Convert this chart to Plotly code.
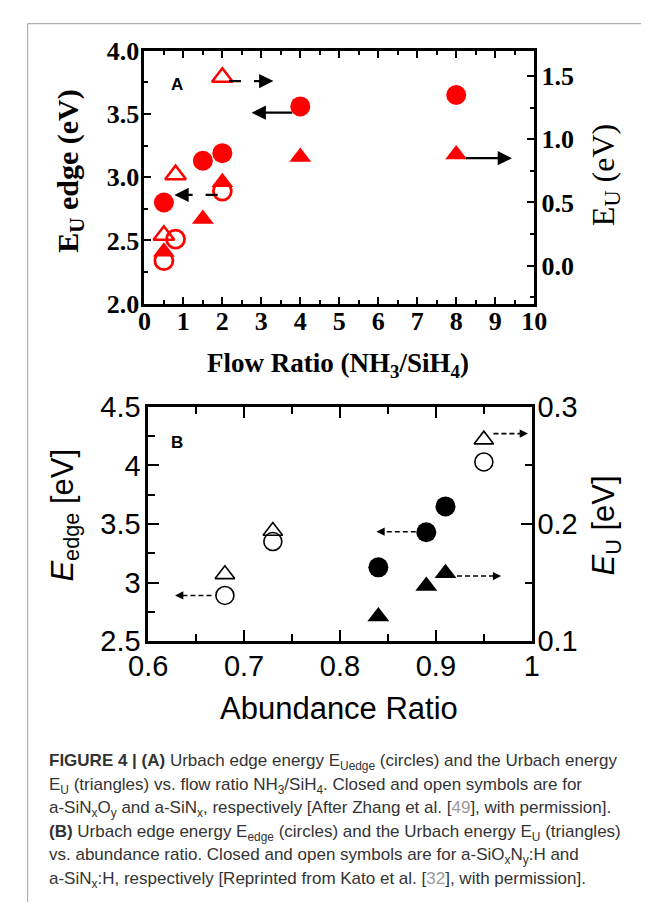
import plotly.graph_objects as go

# ---------------- data: panel A (flow ratio) ----------------
a_flow_closed = [0.5, 1.5, 2, 4, 8]
a_edge_closed = [2.80, 3.13, 3.19, 3.56, 3.65]      # E_U edge (eV), filled circles
a_eu_closed = [0.11, 0.37, 0.66, 0.86, 0.88]         # E_U (eV), filled triangles
a_flow_open = [0.5, 0.8, 2]
a_edge_open = [2.34, 2.51, 2.89]                     # open circles
a_eu_open = [0.24, 0.72, 1.49]                       # open triangles
a_xticks = [0, 1, 2, 3, 4, 5, 6, 7, 8, 9, 10]
a_yticks = [2.0, 2.5, 3.0, 3.5, 4.0]
a_y2ticks = [0.0, 0.5, 1.0, 1.5]

# ---------------- data: panel B (abundance ratio) ----------------
b_ratio_closed = [0.84, 0.89, 0.91]
b_edge_closed = [3.13, 3.43, 3.65]
b_eu_closed = [0.121, 0.147, 0.158]
b_ratio_open = [0.68, 0.73, 0.95]
b_edge_open = [2.89, 3.35, 4.03]
b_eu_open = [0.157, 0.194, 0.272]
b_xticks = [0.6, 0.7, 0.8, 0.9, 1.0]
b_xticktext = ["0.6", "0.7", "0.8", "0.9", "1"]
b_yticks = [2.5, 3.0, 3.5, 4.0, 4.5]
b_yticktext = ["2.5", "3", "3.5", "4", "4.5"]
b_y2ticks = [0.1, 0.2, 0.3]
b_y2ticktext = ["0.1", "0.2", "0.3"]

# arrows: (tail_x, tail_y, tip_x, tip_y, y-axis, dashed)
arrows_a = [
    (2.17, 1.46, 3.31, 1.46, "y2", True),
    (3.83, 3.51, 2.75, 3.51, "y", False),
    (1.88, 2.86, 0.77, 2.86, "y", True),
    (8.21, 0.85, 9.43, 0.85, "y2", False),
]
arrows_b = [
    (0.666, 2.89, 0.628, 2.89, "y3"),
    (0.879, 3.434, 0.838, 3.434, "y3"),
    (0.922, 0.1556, 0.968, 0.1556, "y4"),
    (0.960, 0.2772, 0.996, 0.2772, "y4"),
]

W, H = 654, 918
def px(x):
    return x / W
def py(y):
    return 1 - y / H

RED = "#ff0000"
SERIF = "Liberation Serif, Times New Roman, serif"
SANS = "Liberation Sans, Arial, sans-serif"

fig = go.Figure()

# ---- panel A markers ----
fig.add_trace(go.Scatter(x=a_flow_closed, y=a_edge_closed, mode="markers",
                         marker=dict(symbol="circle", size=20, color=RED),
                         xaxis="x", yaxis="y"))
fig.add_trace(go.Scatter(x=a_flow_open, y=a_edge_open, mode="markers",
                         marker=dict(symbol="circle-open", size=18, color=RED,
                                     line=dict(width=2.8, color=RED)),
                         xaxis="x", yaxis="y"))
fig.add_trace(go.Scatter(x=a_flow_closed, y=a_eu_closed, mode="markers",
                         marker=dict(symbol="triangle-up", size=19, color=RED),
                         xaxis="x", yaxis="y2"))
fig.add_trace(go.Scatter(x=a_flow_open, y=a_eu_open, mode="markers",
                         marker=dict(symbol="triangle-up-open", size=18, color=RED,
                                     line=dict(width=2.5, color=RED)),
                         xaxis="x", yaxis="y2"))

# ---- panel B markers ----
fig.add_trace(go.Scatter(x=b_ratio_closed, y=b_edge_closed, mode="markers",
                         marker=dict(symbol="circle", size=20, color="black"),
                         xaxis="x2", yaxis="y3"))
fig.add_trace(go.Scatter(x=b_ratio_open, y=b_edge_open, mode="markers",
                         marker=dict(symbol="circle-open", size=18, color="black",
                                     line=dict(width=1.6, color="black")),
                         xaxis="x2", yaxis="y3"))
fig.add_trace(go.Scatter(x=b_ratio_closed, y=b_eu_closed, mode="markers",
                         marker=dict(symbol="triangle-up", size=19, color="black"),
                         xaxis="x2", yaxis="y4"))
fig.add_trace(go.Scatter(x=b_ratio_open, y=b_eu_open, mode="markers",
                         marker=dict(symbol="triangle-up-open", size=17, color="black",
                                     line=dict(width=1.6, color="black")),
                         xaxis="x2", yaxis="y4"))

annotations = []

# ---- panel A arrows ----
for tx, ty, hx, hy, yax, dashed in arrows_a:
    sgn = 1 if hx > tx else -1
    if dashed:
        fig.add_trace(go.Scatter(x=[tx, hx - sgn * 0.15], y=[ty, hy], mode="lines",
                                 line=dict(color="black", width=2.4, dash="12px,13px,80px"),
                                 xaxis="x", yaxis=yax, hoverinfo="skip"))
        annotations.append(dict(x=hx, y=hy, xref="x", yref=yax, ax=-sgn * 12, ay=0,
                                text="", showarrow=True, arrowhead=2, arrowsize=1.3,
                                arrowwidth=2.2, arrowcolor="black"))
    else:
        annotations.append(dict(x=hx, y=hy, xref="x", yref=yax, ax=tx, ay=ty,
                                axref="x", ayref=yax, text="", showarrow=True,
                                arrowhead=2, arrowsize=1.3, arrowwidth=2.2,
                                arrowcolor="black"))

# ---- panel B arrows (dashed) ----
for tx, ty, hx, hy, yax in arrows_b:
    sgn = 1 if hx > tx else -1
    fig.add_trace(go.Scatter(x=[tx, hx - sgn * 0.004], y=[ty, hy], mode="lines",
                             line=dict(color="black", width=1.6, dash="5px,3px"),
                             xaxis="x2", yaxis=yax, hoverinfo="skip"))
    annotations.append(dict(x=hx, y=hy, xref="x2", yref=yax, ax=-sgn * 9, ay=0,
                            text="", showarrow=True, arrowhead=2, arrowsize=1.1,
                            arrowwidth=1.5, arrowcolor="black"))

def label(x, y, text, font, angle=0, xanchor="center"):
    return dict(x=px(x), y=py(y), xref="paper", yref="paper", text=text,
                textangle=angle, showarrow=False, font=font,
                xanchor=xanchor, yanchor="middle")

# ---- panel labels ----
lab_font = dict(family=SANS, size=17, color="black", weight="bold")
annotations.append(label(165, 71, "A", lab_font))
annotations.append(label(165.5, 442, "B", lab_font))

# ---- axis titles ----
titfA = dict(family=SERIF, size=30, color="black", weight="bold")
titfA2 = dict(family=SERIF, size=32, color="black")
annotations.append(label(53, 161, "E<sub>U</sub> edge (eV)", titfA, -90))
annotations.append(label(616, 165, "E<sub>U</sub> (eV)", titfA2, -90))
annotations.append(label(335, 362, "Flow Ratio (NH<sub>3</sub>/SiH<sub>4</sub>)",
                         dict(family=SERIF, size=27, color="black", weight="bold")))

titfB = dict(family=SANS, size=31, color="black")
annotations.append(label(47, 517, "<i>E</i><sub>edge</sub> [eV]", titfB, -90))
annotations.append(label(617, 528, "<i>E</i><sub>U</sub> [eV]", titfB, -90))
annotations.append(label(336, 718, "Abundance Ratio", titfB))

# ---- caption ----
GR = '<span style="color:#9a9a9a">'
cap_lines = [
    "<b>FIGURE 4 | (A)</b> Urbach edge energy E<sub>Uedge</sub> (circles) and the Urbach energy",
    "E<sub>U</sub> (triangles) vs. flow ratio NH<sub>3</sub>/SiH<sub>4</sub>. Closed and open symbols are for",
    "a-SiN<sub>x</sub>O<sub>y</sub> and a-SiN<sub>x</sub>, respectively [After Zhang et al. [" + GR + "49</span>], with permission].",
    "<b>(B)</b> Urbach edge energy E<sub>edge</sub> (circles) and the Urbach energy E<sub>U</sub> (triangles)",
    "vs. abundance ratio. Closed and open symbols are for a-SiO<sub>x</sub>N<sub>y</sub>:H and",
    "a-SiN<sub>x</sub>:H, respectively [Reprinted from Kato et al. [" + GR + "32</span>], with permission].",
]
cap_y = [773, 798, 822, 846, 870, 895]
cap_font = dict(family=SANS, size=17, color="#333333")
for t, yy in zip(cap_lines, cap_y):
    annotations.append(label(28, yy, t, cap_font, xanchor="left"))

# ---- border lines ----
shapes = [
    dict(type="line", xref="paper", yref="paper", x0=px(8), x1=1, y0=py(8), y1=py(8),
         line=dict(color="#b0b0b0", width=1.2)),
    dict(type="line", xref="paper", yref="paper", x0=px(8), x1=px(8), y0=py(8), y1=0,
         line=dict(color="#b0b0b0", width=1.2)),
]

tfA = dict(family=SERIF, size=26, color="black", weight="bold")
tfB = dict(family=SANS, size=29, color="black")

axA = dict(showgrid=False, zeroline=False, showline=True, linecolor="black", linewidth=3,
           ticks="inside", tickwidth=2.2, ticklen=7, tickcolor="black", tickfont=tfA)
axB = dict(showgrid=False, zeroline=False, showline=True, linecolor="black", linewidth=2.6,
           ticks="inside", tickwidth=2, ticklen=11, tickcolor="black", tickfont=tfB)

fig.update_layout(
    width=W, height=H, margin=dict(l=0, r=0, t=0, b=0),
    paper_bgcolor="white", plot_bgcolor="white", showlegend=False,
    xaxis=dict(axA, domain=[px(131), px(541.5)], anchor="y", range=[0, 10],
               tickvals=a_xticks, mirror="ticks", ticklabelstandoff=-8,
               minor=dict(dtick=0.5, tick0=0, ticks="inside", ticklen=4, tickwidth=2.2,
                          tickcolor="black")),
    yaxis=dict(axA, domain=[py(298), py(36)], anchor="x", range=[2, 4],
               tickvals=a_yticks, tickformat=".1f", ticklabelstandoff=-3,
               minor=dict(dtick=0.25, tick0=0, ticks="inside", ticklen=4, tickwidth=2.2,
                          tickcolor="black")),
    yaxis2=dict(axA, overlaying="y", side="right", anchor="x", range=[-0.3, 1.7],
                tickvals=a_y2ticks, tickformat=".1f", ticklabelstandoff=-1,
                minor=dict(dtick=0.25, tick0=0, ticks="inside", ticklen=4, tickwidth=2.2,
                           tickcolor="black")),
    xaxis2=dict(axB, domain=[px(135), px(539)], anchor="y3", range=[0.6, 1.0],
                tickvals=b_xticks, ticktext=b_xticktext, mirror="ticks", ticklabelstandoff=-3,
                minor=dict(tickvals=[0.65, 0.75, 0.85, 0.95], ticks="inside", ticklen=7,
                           tickwidth=2, tickcolor="black")),
    yaxis3=dict(axB, domain=[py(647.7), py(405)], anchor="x2", range=[2.5, 4.5],
                tickvals=b_yticks, ticktext=b_yticktext, ticklabelstandoff=-1,
                minor=dict(tickvals=[2.75, 3.25, 3.75, 4.25], ticks="inside", ticklen=7,
                           tickwidth=2, tickcolor="black")),
    yaxis4=dict(axB, overlaying="y3", side="right", anchor="x2", range=[0.1, 0.3],
                tickvals=b_y2ticks, ticktext=b_y2ticktext, ticklabelstandoff=-3,
                minor=dict(tickvals=[0.15, 0.25], ticks="inside", ticklen=7,
                           tickwidth=2, tickcolor="black")),
    annotations=annotations,
    shapes=shapes,
)

fig.write_html("out.html")
